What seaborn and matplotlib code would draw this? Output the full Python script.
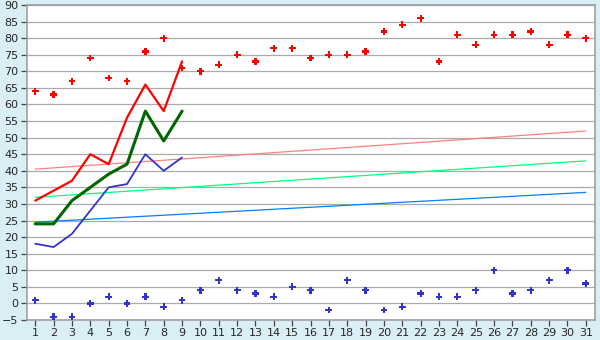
import matplotlib
matplotlib.use("Agg")
import matplotlib.pyplot as plt
import seaborn as sns
import pandas as pd
import numpy as np

days = list(range(1, 32))
red_points = [64, 63, 67, 74, 68, 67, 76, 80, 71, 70, 72, 75, 73, 77, 77, 74,
              75, 75, 76, 82, 84, 86, 73, 81, 78, 81, 81, 82, 78, 81, 80]
blue_points = [1, -4, -4, 0, 2, 0, 2, -1, 1, 4, 7, 4, 3, 2, 5, 4,
               -2, 7, 4, -2, -1, 3, 2, 2, 4, 10, 3, 4, 7, 10, 6]

line_days = list(range(1, 10))
red_line = [31, 34, 37, 45, 42, 56, 66, 58, 73]
green_line = [24, 24, 31, 35, 39, 42, 58, 49, 58]
blue_line = [18, 17, 21, 28, 35, 36, 45, 40, 44]

trend_days = [1, 31]
red_trend = [40.5, 52]
green_trend = [32, 43]
blue_trend = [24.5, 33.5]

y_ticks = list(range(-5, 91, 5))

sns.set_style("white")
plt.rcParams['font.family'] = ['DejaVu Sans']

fig = plt.figure(figsize=(6, 3.4), dpi=100, facecolor="#D9EEF5")
ax = fig.add_axes([27/600, 1-320/340, (595-27)/600, (320-5)/340])
ax.set_facecolor("white")

for y in y_ticks:
    ax.axhline(y, color="#ABABAB", lw=0.9, zorder=0)

tr = pd.DataFrame({"day": trend_days, "r": red_trend, "g": green_trend, "b": blue_trend})
sns.lineplot(data=tr, x="day", y="r", color="#FF8080", lw=0.9, ax=ax)
sns.lineplot(data=tr, x="day", y="g", color="#00FF80", lw=0.9, ax=ax)
sns.lineplot(data=tr, x="day", y="b", color="#0080FF", lw=0.9, ax=ax)

ln = pd.DataFrame({"day": line_days, "r": red_line, "g": green_line, "b": blue_line})
sns.lineplot(data=ln, x="day", y="b", color="#3333CC", lw=1.3, ax=ax)
sns.lineplot(data=ln, x="day", y="g", color="#006600", lw=2.2, ax=ax)
sns.lineplot(data=ln, x="day", y="r", color="#FF0000", lw=1.6, ax=ax)

pts = pd.DataFrame({"day": days, "r": red_points, "b": blue_points})
sns.scatterplot(data=pts, x="day", y="r", color="#FF0000", marker="P", s=24,
                edgecolor="none", ax=ax, zorder=5)
sns.scatterplot(data=pts, x="day", y="b", color="#3333CC", marker="P", s=24,
                edgecolor="none", ax=ax, zorder=5)

ax.set_xlim(0.55, 31.5)
ax.set_ylim(-5, 90)
ax.set_xticks(days)
ax.set_xticklabels([str(d) for d in days])
ax.set_yticks(y_ticks)
ax.set_yticklabels([("\u22125" if v < 0 else str(v)) for v in y_ticks])
ax.set_xlabel("")
ax.set_ylabel("")
ax.tick_params(axis="both", labelsize=8, length=4, width=0.9, color="#444444",
               direction="out", pad=2, bottom=True, left=True)
for s in ax.spines.values():
    s.set_color("#A0A0A0")
    s.set_linewidth(1.2)
    s.set_visible(True)

fig.savefig("out.png", dpi=100, facecolor=fig.get_facecolor())
